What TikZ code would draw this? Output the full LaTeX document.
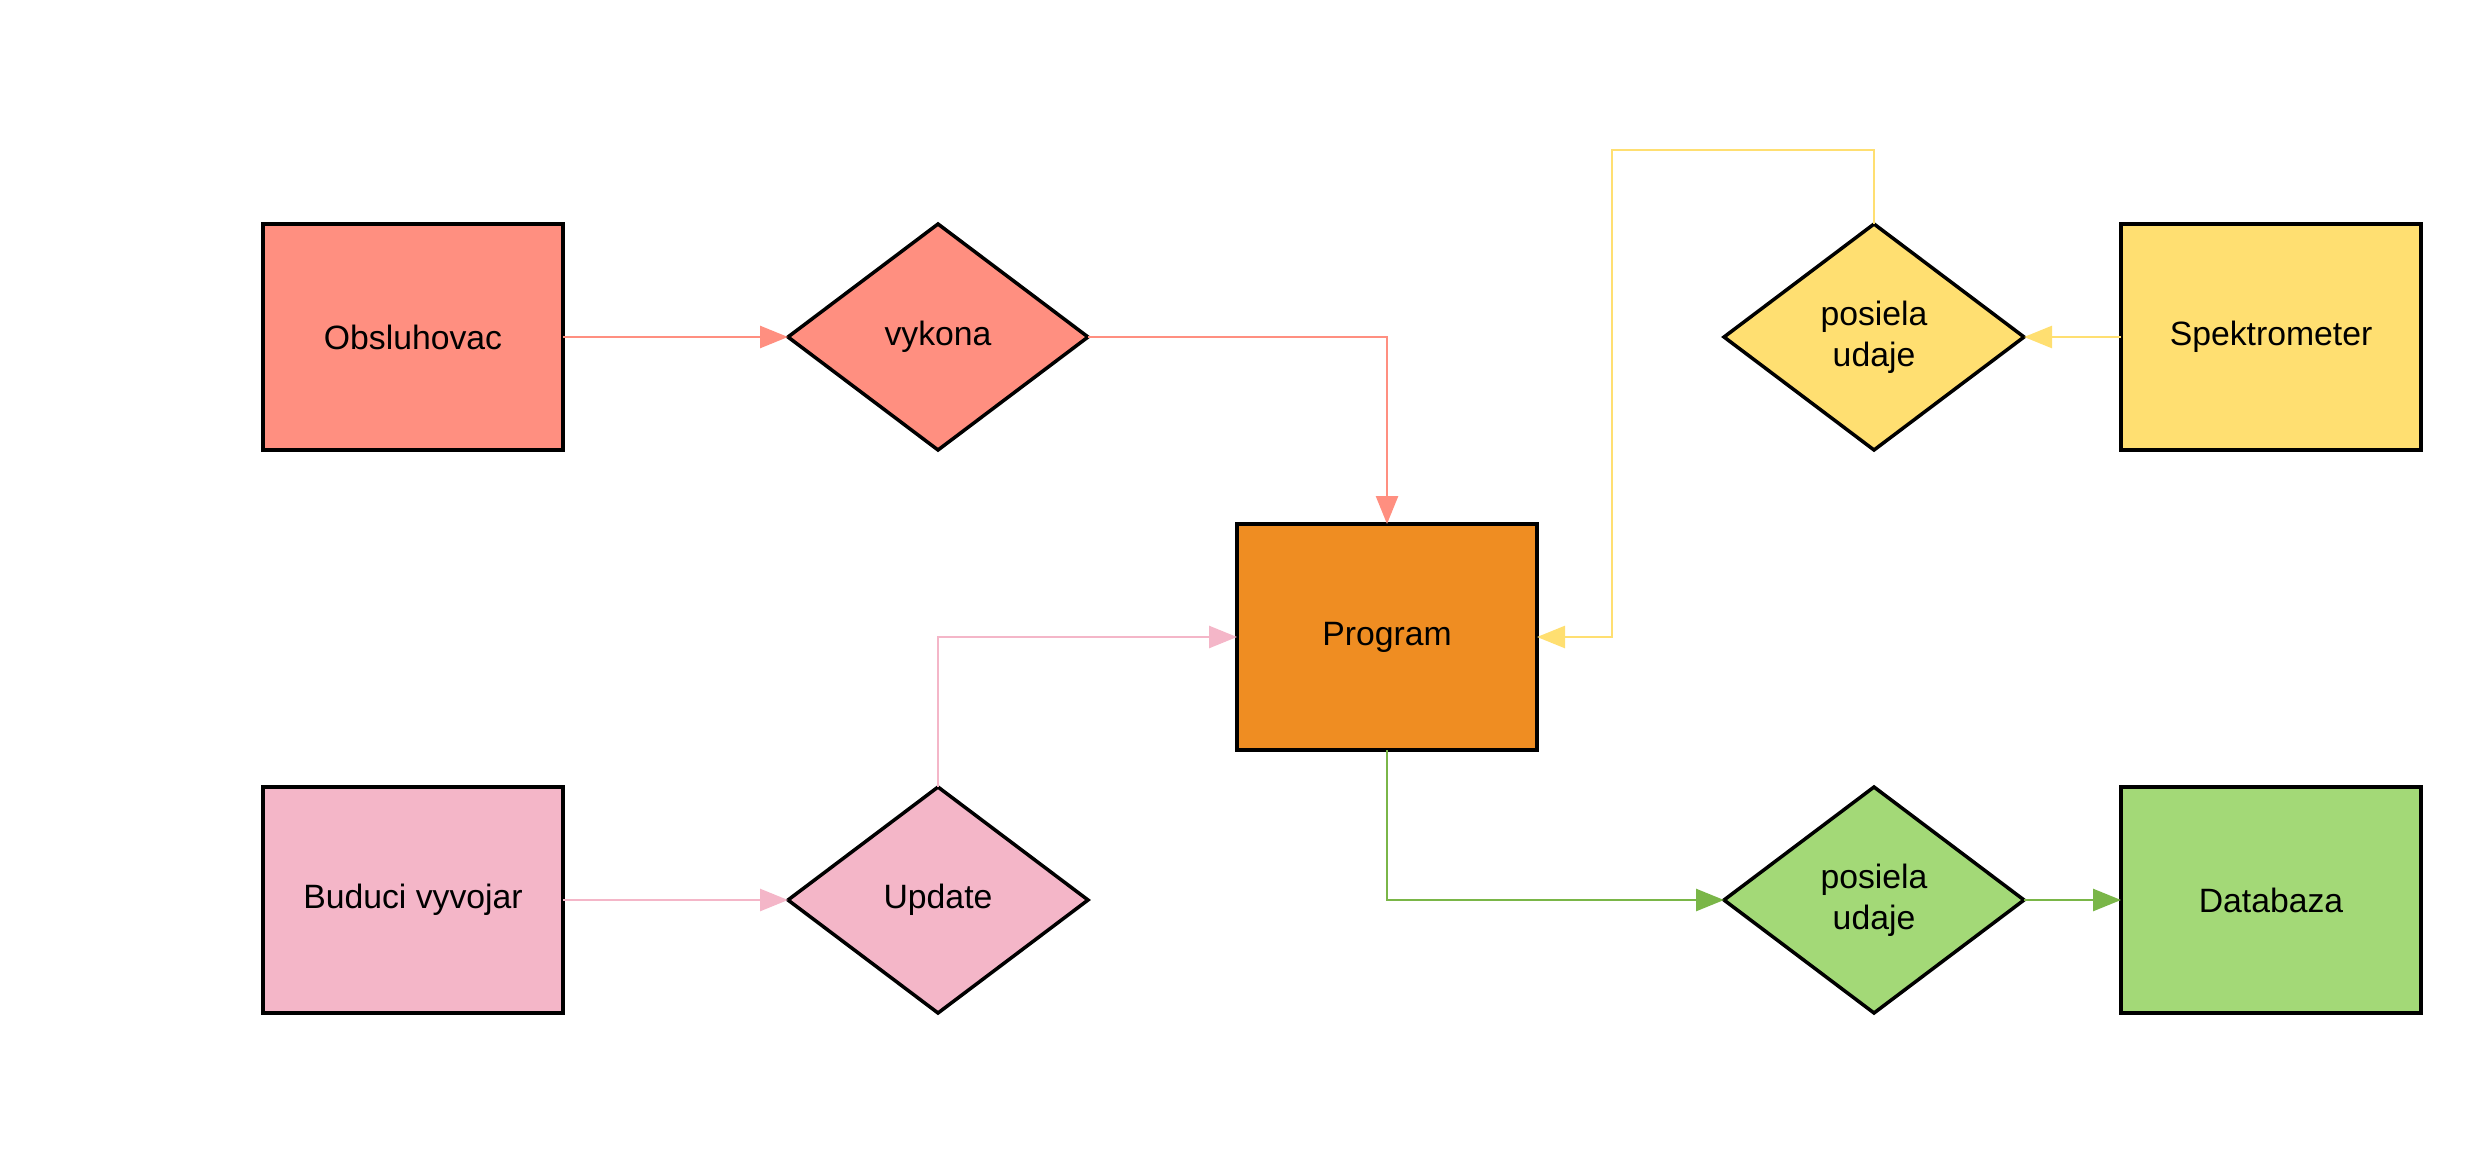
\documentclass[tikz,border=0pt]{standalone}
\usepackage{fontspec}
\setmainfont{Liberation Sans}
\usetikzlibrary{arrows.meta,shapes.geometric,positioning}

\definecolor{cervena}{RGB}{255,143,128}
\definecolor{zlta}{RGB}{255,223,113}
\definecolor{ruzova}{RGB}{244,182,200}
\definecolor{zelena}{RGB}{163,217,119}
\definecolor{zelenaciara}{RGB}{122,182,72}
\definecolor{oranzova}{RGB}{239,141,34}

\tikzset{
    entita/.style={draw=black,line width=1pt,minimum width=3cm,minimum height=2.26cm,outer sep=0pt,
        font=\fontsize{9.6}{11.7}\selectfont,align=center},
    vztah/.style={diamond,draw=black,line width=1pt,minimum width=3cm,minimum height=2.26cm,outer sep=0pt,
        inner sep=0pt,font=\fontsize{9.6}{11.7}\selectfont,align=center},
    spoj/.style={line width=0.75pt,-{Triangle[length=0.28cm,width=0.22cm]}}
}

\begin{document}
\begin{tikzpicture}
        \useasboundingbox (0,0) rectangle (24.8,-11.75);

        % horny rad
        \node[entita,fill=cervena] (obsluhovac) at (4.13,-3.37) {Obsluhovac};
        \node[vztah,fill=cervena] (vykona) at (9.38,-3.37) {vykona};
        \node[vztah,fill=zlta] (posiela1) at (18.74,-3.37) {posiela\\udaje};
        \node[entita,fill=zlta] (spektrometer) at (22.71,-3.37) {Spektrometer};

        \node[entita,fill=oranzova] (program) at (13.87,-6.37) {Program};

        % dolny rad
        \node[entita,fill=ruzova] (vyvojar) at (4.13,-9.00) {Buduci vyvojar};
        \node[vztah,fill=ruzova] (update) at (9.38,-9.00) {Update};
        \node[vztah,fill=zelena] (posiela2) at (18.74,-9.00) {posiela\\udaje};
        \node[entita,fill=zelena] (databaza) at (22.71,-9.00) {Databaza};

        \coordinate (ohyb) at (16.12,-1.50);

        \draw[spoj,color=cervena] (obsluhovac) -- (vykona);
        \draw[spoj,color=cervena] (vykona.east) -| (program.north);
        \draw[spoj,color=zlta] (spektrometer) -- (posiela1);
        \draw[spoj,color=zlta] (posiela1.north) |- (ohyb) |- (program.east);
        \draw[spoj,color=ruzova] (vyvojar) -- (update);
        \draw[spoj,color=ruzova] (update.north) |- (program.west);
        \draw[spoj,color=zelenaciara] (program.south) |- (posiela2.west);
        \draw[spoj,color=zelenaciara] (posiela2) -- (databaza);
\end{tikzpicture}
\end{document}
